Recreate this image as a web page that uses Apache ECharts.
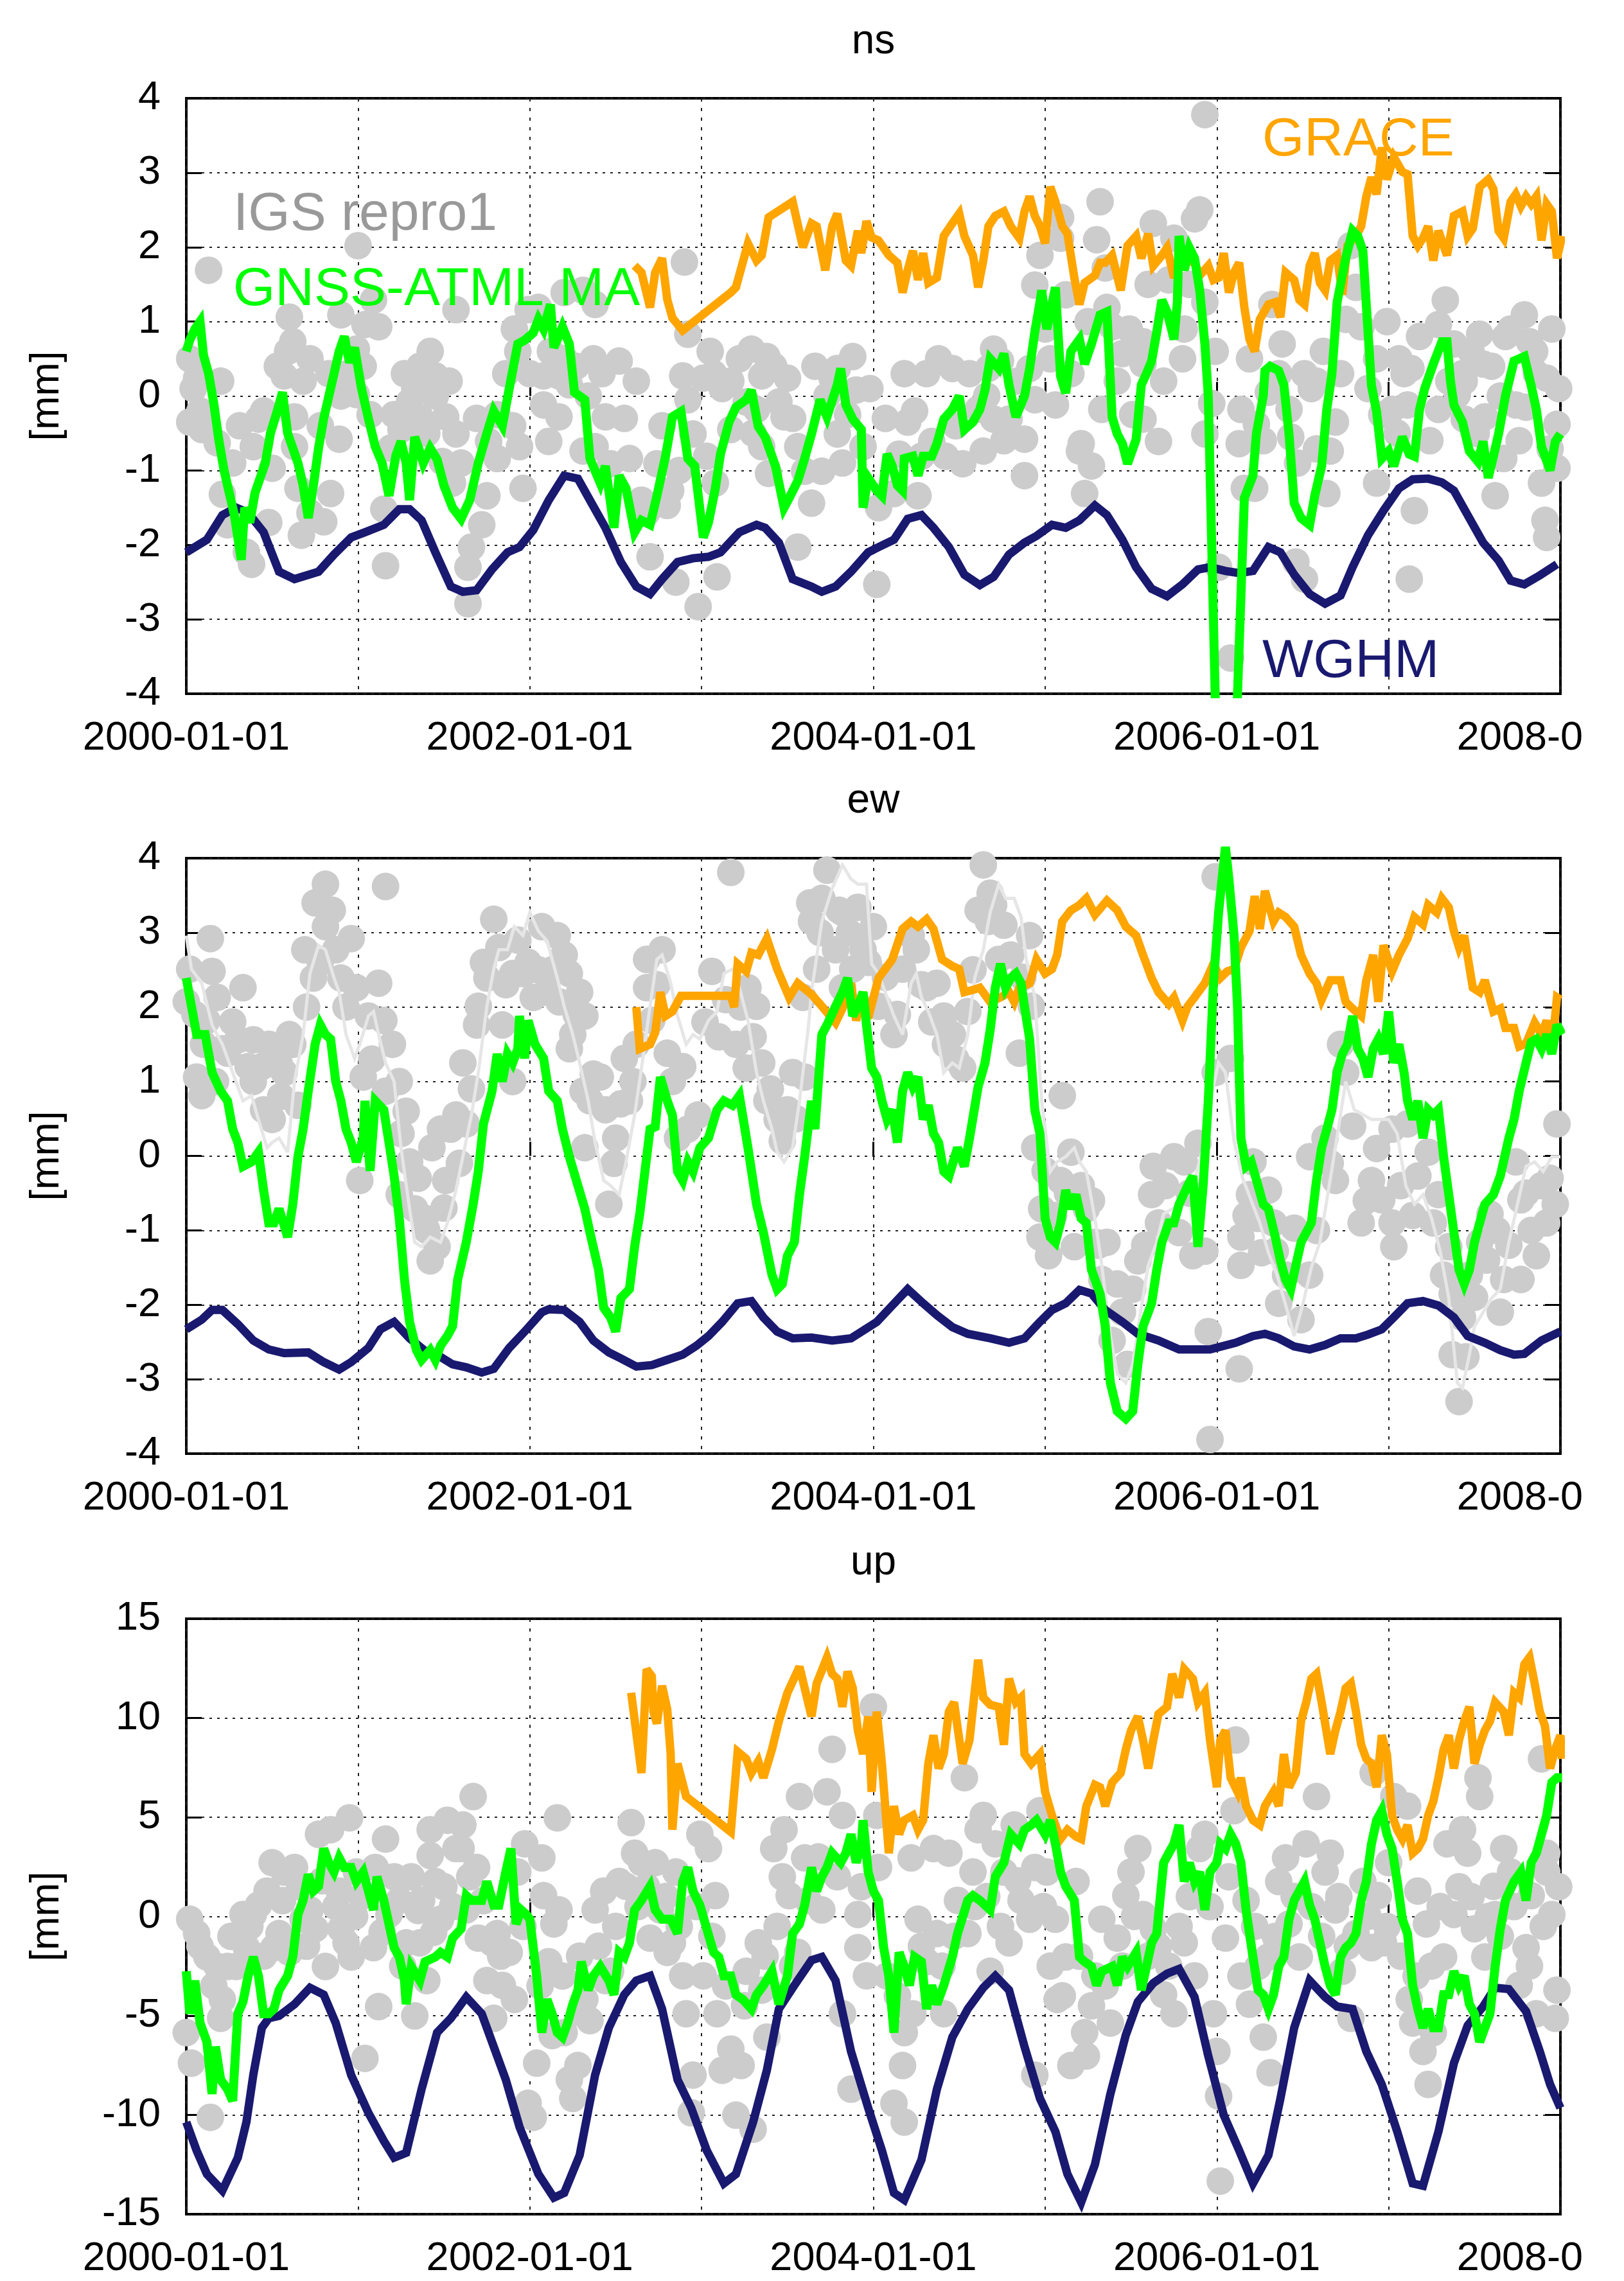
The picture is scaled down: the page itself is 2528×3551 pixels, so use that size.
<!DOCTYPE html>
<html><head><meta charset="utf-8">
<script src="https://cdn.jsdelivr.net/npm/echarts@6/dist/echarts.min.js"></script>
<style>html,body{margin:0;padding:0;background:#fff;}#c{width:2463px;height:3551px;}</style>
</head><body><div id="c"></div>
<script>
// ---------- tick labels / categories ----------
const panelTitles = ['ns', 'ew', 'up'];
const yRanges = [[-4, 4, 1], [-4, 4, 1], [-15, 15, 5]];
const xRange = [2000, 2008, 1];
const legendNames = ['IGS repro1', 'GNSS-ATML MA', 'GRACE', 'WGHM'];

// ---------- ns ----------
const nsGray = [[2000.13,1.69],[2001.00,2.02],[2002.90,1.80],[2000.60,1.06],[2000.62,0.73],[2000.59,0.60],[2000.57,0.27],[2000.90,1.09],[2001.09,1.29],[2001.04,0.96],[2001.12,0.93],[2000.99,0.63],[2001.57,1.16],[2001.36,0.40],[2001.45,0.27],[2001.91,0.90],[2001.99,1.16],[2002.05,1.19],[2002.20,1.39],[2002.31,1.42],[2002.38,1.23],[2001.93,0.60],[2002.08,0.27],[2002.17,0.27],[2002.20,0.50],[2002.37,0.50],[2002.52,0.47],[2002.92,0.83],[2003.17,0.20],[2003.29,0.63],[2003.38,0.53],[2003.35,0.27],[2003.50,0.24],[2003.07,0.30],[2003.01,0.24],[2002.89,0.27],[2000.02,0.50],[2000.06,0.24],
[2005.93,3.78],[2005.32,2.61],[2005.90,2.50],[2005.87,2.38],[2005.63,2.32],[2005.09,2.40],[2005.30,2.10],[2004.97,1.89],[2004.94,1.49],[2005.09,2.12],[2005.75,2.12],[2005.35,1.72],[2005.36,1.19],[2005.39,0.93],[2005.12,1.36],[2005.57,0.73],[2005.72,1.56],[2005.81,0.90],[2005.93,1.26],[2005.99,0.60],[2005.80,0.50],[2006.32,1.23],[2006.36,0.30],[2006.78,2.02],[2006.81,1.46],[2006.84,0.93],[2006.75,1.03],[2007.33,1.29],[2007.29,0.96],[2007.38,0.70],[2007.53,0.83],[2007.79,1.09],[2007.82,0.73],[2007.68,0.80],[2007.06,0.50],[2006.93,0.50],[2007.43,0.30],[2007.55,0.43],[2007.86,0.30],[2007.92,0.24],[2003.88,0.53],[2003.79,0.37],[2003.76,0.24],[2004.31,0.30],[2004.46,0.37],[2004.70,0.63],[2004.74,0.47],[2004.67,0.37],[2004.91,0.37],[2005.03,0.50],[2005.45,0.57],[2005.57,0.43],[2006.51,0.30],[2006.58,0.20],[2007.13,0.37],[2007.44,0.20],
[2000.02,-0.35],[2000.09,-0.45],[2000.18,-0.63],[2000.21,-1.32],[2000.24,-1.73],[2000.38,-2.26],[2000.35,-2.10],[2000.48,-1.70],[2000.42,-0.31],[2000.39,-0.68],[2000.50,-0.97],[2000.63,-0.28],[2000.63,-0.68],[2000.67,-1.87],[2000.65,-1.24],[2000.72,-1.57],[2000.80,-1.69],[2000.84,-1.31],[2000.90,0.00],[2000.89,-0.58],[2000.99,0.02],[2001.07,-0.25],[2001.16,-2.28],[2001.15,-1.52],[2001.21,-0.25],[2001.25,-0.45],[2001.30,-0.08],[2001.36,-0.28],[2001.45,0.00],[2001.51,-0.28],[2001.49,-0.88],[2001.55,-1.17],[2001.57,-0.51],[2001.64,-2.79],[2001.64,-2.30],[2001.66,-2.03],[2001.72,-1.73],[2001.75,-1.34],[2001.76,-0.61],[2001.81,-0.25],[2001.81,-0.84],[2001.94,-0.68],[2001.96,-1.24],[2002.08,-0.12],[2002.11,-0.61],[2002.17,-0.28],[2002.23,0.15],[2002.31,-0.74],[2002.38,-0.68],[2002.44,-0.28],[2002.47,-0.91],[2002.58,-0.84],[2002.65,-1.40],[2002.68,-1.57],[2002.70,-2.16],[2002.85,-2.50],[2002.98,-2.83],[2003.09,-2.43],[2002.74,-0.91],[2002.80,-1.47],[2002.82,-1.27],[2002.92,-0.05],[2002.95,-0.51],[2003.03,-0.81],[2003.08,-1.17],[2003.17,-0.45],[2003.26,-0.08],[2003.32,-0.18],[2003.35,-0.68],[2003.39,-1.04],[2003.45,-0.08],[2003.48,-0.28],[2003.56,-0.68],[2003.60,-1.01],[2003.56,-2.03],
[2003.64,-1.44],[2003.70,-1.01],[2003.79,-0.51],[2003.85,-0.25],[2003.90,0.08],[2003.94,-0.68],[2004.02,-2.53],[2004.03,-1.50],[2004.12,-1.31],[2004.15,-0.78],[2004.20,-0.35],[2004.26,-1.34],[2004.28,-0.81],[2004.34,-0.61],[2004.42,-0.81],[2004.52,-0.91],[2004.61,-0.18],[2004.64,-0.74],[2004.70,-0.31],[2004.79,-0.31],[2004.88,-0.58],[2004.88,-1.07],[2004.94,-0.05],[2005.06,-0.12],[2005.20,-0.74],[2005.23,-1.31],[2005.21,-0.64],[2005.27,-0.94],[2005.33,-0.18],[2005.51,-0.25],[2005.57,-0.31],[2005.66,-0.61],[2005.93,-0.51],[2006.01,-2.30],[2006.08,-3.52],[2006.13,-0.64],[2006.14,-0.18],[2006.16,-1.24],[2006.22,-1.24],[2006.23,-0.38],[2006.30,0.05],[2006.42,-0.18],[2006.43,-0.55],[2006.46,-2.23],[2006.51,-2.46],[2006.58,-0.71],[2006.64,-1.31],[2006.69,-0.35],[2006.66,-0.74],[2006.93,-1.17],[2006.96,-0.25],[2007.02,-0.18],[2007.11,-0.12],[2007.12,-2.46],[2007.15,-1.54],[2007.29,-0.18],[2007.40,0.02],[2007.44,-0.31],[2007.56,-0.28],[2007.62,-1.34],[2007.67,-0.84],[2007.74,-0.12],[2007.80,-0.15],[2007.91,-1.67],[2007.92,-1.90],[2007.89,-1.17],[2007.98,-0.38],[2007.98,-0.97],[2007.94,-0.71],
[2000.04,0.1],[2000.08,-0.2],[2000.20,0.2],[2000.27,-0.9],[2000.31,-0.4],[2000.45,-0.2],[2000.53,0.4],[2000.68,0.2],[2000.72,0.5],[2000.78,-0.4],[2000.83,0.3],[2000.94,0.3],[2001.03,0.4],[2001.19,-0.7],[2001.27,0.3],[2001.33,0.1],[2001.40,-0.5],[2001.42,0.6],[2001.53,0.2],[2001.60,-0.9],[2001.69,-0.3],[2001.86,0.3],[2001.90,-0.4],[2002.00,0.3],[2002.12,0.6],[2002.27,0.4],[2002.34,0.0],[2002.42,0.3],[2002.55,-0.3],[2002.62,0.2],[2002.77,-0.4],[2002.87,-1.0],[2003.05,0.6],[2003.12,0.1],[2003.22,0.5],[2003.30,-0.5],[2003.42,0.4],[2003.53,-0.3],[2003.66,0.4],[2003.73,0.0],[2003.82,-0.9],[2003.98,0.1],[2004.07,-0.3],[2004.18,0.3],[2004.24,-0.2],[2004.38,0.5],[2004.48,-0.4],[2004.56,0.3],[2004.66,0.0],[2004.76,-0.6],[2004.84,0.2],[2005.00,0.9],[2005.15,0.3],[2005.25,1.0],[2005.42,0.2],[2005.49,0.9],[2005.60,1.5],[2005.69,0.2],[2005.84,1.5],[2005.97,-0.1],[2006.19,0.5],[2006.27,-0.6],[2006.38,0.7],[2006.47,-0.9],[2006.55,0.1],[2006.62,0.6],[2006.72,0.3],[2006.88,0.1],[2006.99,1.0],[2007.05,-0.5],[2007.09,0.3],[2007.18,0.8],[2007.24,-0.6],[2007.35,0.2],[2007.48,0.6],[2007.51,-0.5],[2007.60,0.4],[2007.65,0.0],[2007.71,0.9],[2007.76,-0.6],[2007.85,0.6],[2007.95,0.9],[2007.99,0.1]];

const nsGreen = [[2000.00,0.6],[2000.02,0.75],[2000.05,0.9],[2000.08,1.0],[2000.10,0.55],[2000.13,0.3],[2000.16,-0.1],[2000.19,-0.6],[2000.22,-1.0],[2000.25,-1.3],[2000.28,-1.6],[2000.32,-2.2],[2000.34,-1.5],[2000.37,-1.7],[2000.40,-1.3],[2000.43,-1.1],[2000.46,-0.9],[2000.49,-0.5],[2000.53,-0.2],[2000.56,0.05],[2000.59,-0.5],[2000.62,-0.7],[2000.65,-0.9],[2000.68,-1.2],[2000.71,-1.64],[2000.74,-1.2],[2000.77,-0.7],[2000.80,-0.3],[2000.83,0.0],[2000.86,0.3],[2000.89,0.6],[2000.92,0.8],[2000.95,0.45],[2000.98,0.65],[2001.02,0.1],[2001.06,-0.3],[2001.10,-0.68],[2001.14,-0.9],[2001.18,-1.34],[2001.22,-0.8],[2001.25,-0.61],[2001.28,-0.9],[2001.30,-1.4],[2001.33,-0.55],[2001.36,-0.75],[2001.38,-0.9],[2001.42,-0.7],[2001.46,-0.85],[2001.50,-1.2],[2001.55,-1.5],[2001.60,-1.65],[2001.65,-1.4],[2001.70,-0.9],[2001.75,-0.5],[2001.79,-0.2],[2001.84,-0.4],[2001.88,0.1],[2001.93,0.7],[2001.97,0.75],[2002.02,0.85],[2002.05,1.03],[2002.08,0.9],[2002.12,1.23],[2002.14,0.65],[2002.19,0.93],[2002.23,0.7],[2002.26,0.05],[2002.32,-0.05],[2002.35,-0.84],[2002.41,-1.17],[2002.44,-0.94],[2002.49,-1.77],[2002.52,-1.07],[2002.56,-1.24],[2002.61,-1.83],[2002.65,-1.67],[2002.70,-1.73],[2002.74,-1.34],[2002.79,-0.81],[2002.83,-0.28],[2002.88,-0.21],[2002.92,-0.84],[2002.96,-0.94],[2003.01,-1.90],[2003.04,-1.70],[2003.08,-1.24],[2003.11,-0.78],[2003.16,-0.35],[2003.20,-0.15],[2003.26,-0.05],[2003.29,0.08],[2003.33,-0.41],[2003.37,-0.55],[2003.43,-0.94],[2003.48,-1.50],[2003.51,-1.37],[2003.56,-1.14],[2003.60,-0.84],[2003.64,-0.51],[2003.69,-0.05],[2003.73,-0.28],[2003.79,0.15],[2003.81,0.37],[2003.84,-0.12],[2003.88,-0.31],[2003.93,-0.45],[2003.94,-1.5],[2003.97,-1.1],[2004.02,-1.27],[2004.05,-1.34],[2004.08,-0.78],[2004.11,-0.94],[2004.14,-1.2],[2004.17,-1.27],[2004.18,-0.84],[2004.23,-0.81],[2004.26,-1.07],[2004.29,-0.81],[2004.34,-0.81],[2004.37,-0.64],[2004.41,-0.31],[2004.46,-0.18],[2004.50,0.0],[2004.53,-0.45],[2004.58,-0.35],[2004.62,-0.18],[2004.65,0.08],[2004.68,0.5],[2004.73,0.37],[2004.76,0.57],[2004.79,0.15],[2004.83,-0.28],[2004.88,0.0],[2004.91,0.37],[2004.94,0.86],[2004.97,1.26],[2004.98,1.42],[2005.01,0.9],[2005.06,1.46],[2005.09,0.27],[2005.12,0.04],[2005.15,0.6],[2005.20,0.76],[2005.23,0.43],[2005.27,0.7],[2005.32,1.09],[2005.36,1.13],[2005.39,-0.28],[2005.42,-0.51],[2005.45,-0.64],[2005.48,-0.91],[2005.53,-0.58],[2005.56,0.15],[2005.59,0.3],[2005.62,0.47],[2005.65,0.86],[2005.68,1.29],[2005.71,1.13],[2005.74,0.86],[2005.75,0.76],[2005.77,1.26],[2005.78,2.15],[2005.81,1.69],[2005.84,1.99],[2005.87,1.85],[2005.90,1.42],[2005.93,0.7],[2005.95,0.0],[2006.01,-6.0],[2006.09,-6.0],[2006.16,-1.37],[2006.21,-1.07],[2006.23,-0.51],[2006.27,0.0],[2006.28,0.34],[2006.31,0.40],[2006.36,0.34],[2006.39,0.15],[2006.42,-0.51],[2006.45,-1.44],[2006.49,-1.64],[2006.54,-1.73],[2006.57,-1.34],[2006.61,-0.94],[2006.64,-0.18],[2006.67,0.3],[2006.70,1.26],[2006.75,1.85],[2006.79,2.22],[2006.82,2.15],[2006.85,1.95],[2006.90,0.14],[2006.93,-0.21],[2006.96,-0.84],[2007.00,-0.74],[2007.03,-0.94],[2007.08,-0.55],[2007.12,-0.78],[2007.15,-0.81],[2007.18,-0.18],[2007.21,0.1],[2007.26,0.43],[2007.31,0.73],[2007.34,0.73],[2007.36,0.2],[2007.38,-0.12],[2007.43,-0.35],[2007.47,-0.74],[2007.52,-0.88],[2007.55,-0.61],[2007.58,-1.1],[2007.61,-0.81],[2007.64,-0.51],[2007.68,0.0],[2007.73,0.47],[2007.79,0.53],[2007.83,0.14],[2007.86,-0.18],[2007.89,-0.68],[2007.94,-1.0],[2007.97,-0.61],[2008.00,-0.51]];

const nsGrace = [[2002.61,1.75],[2002.65,1.66],[2002.70,1.19],[2002.73,1.66],[2002.77,1.85],[2002.80,1.30],[2002.83,1.05],[2002.89,0.88],[2003.17,1.39],[2003.20,1.46],[2003.27,2.05],[2003.32,1.82],[2003.35,1.89],[2003.39,2.40],[2003.53,2.61],[2003.59,2.00],[2003.64,2.32],[2003.67,2.28],[2003.72,1.69],[2003.76,2.28],[2003.79,2.45],[2003.84,1.82],[2003.87,1.75],[2003.91,2.22],[2003.93,1.92],[2003.96,2.35],[2003.99,2.13],[2004.03,2.09],[2004.09,1.89],[2004.14,1.79],[2004.17,1.39],[2004.20,1.69],[2004.23,1.95],[2004.26,1.56],[2004.29,1.92],[2004.32,1.52],[2004.37,1.59],[2004.41,2.15],[2004.46,2.32],[2004.50,2.45],[2004.53,2.15],[2004.58,1.89],[2004.61,1.46],[2004.64,1.82],[2004.67,2.28],[2004.71,2.42],[2004.76,2.48],[2004.80,2.28],[2004.85,2.12],[2004.88,2.48],[2004.91,2.68],[2004.94,2.42],[2004.97,2.28],[2005.00,2.05],[2005.03,2.81],[2005.06,2.61],[2005.10,2.28],[2005.13,2.18],[2005.17,1.59],[2005.20,1.23],[2005.23,1.52],[2005.29,1.62],[2005.32,1.79],[2005.35,1.79],[2005.39,1.89],[2005.44,1.42],[2005.48,2.02],[2005.53,2.15],[2005.56,1.85],[2005.60,2.18],[2005.63,1.75],[2005.68,1.89],[2005.71,1.99],[2005.75,1.59],[2005.78,1.75],[2005.83,1.82],[2005.87,1.79],[2005.90,1.62],[2005.95,1.75],[2005.98,1.56],[2006.01,1.59],[2006.04,1.92],[2006.07,1.39],[2006.10,1.66],[2006.13,1.79],[2006.16,1.19],[2006.19,0.76],[2006.22,0.60],[2006.25,1.03],[2006.30,1.23],[2006.34,1.26],[2006.37,1.06],[2006.40,1.66],[2006.45,1.56],[2006.48,1.29],[2006.51,1.23],[2006.54,1.75],[2006.57,1.92],[2006.60,1.52],[2006.63,1.42],[2006.66,1.82],[2006.70,1.89],[2006.73,1.36],[2006.76,2.02],[2006.81,2.15],[2006.84,2.28],[2006.87,2.68],[2006.90,2.94],[2006.93,2.71],[2006.96,3.34],[2006.99,2.91],[2007.03,3.21],[2007.08,3.01],[2007.11,2.98],[2007.14,2.15],[2007.17,2.02],[2007.20,2.12],[2007.23,2.28],[2007.26,1.82],[2007.29,2.22],[2007.34,1.89],[2007.38,2.42],[2007.43,2.48],[2007.46,2.15],[2007.49,2.25],[2007.53,2.81],[2007.58,2.91],[2007.61,2.78],[2007.64,2.22],[2007.67,2.12],[2007.71,2.61],[2007.74,2.71],[2007.77,2.55],[2007.80,2.68],[2007.83,2.58],[2007.86,2.68],[2007.89,2.09],[2007.92,2.58],[2007.95,2.48],[2007.98,1.85],[2008.01,2.15]];

const nsWghm = [[2000.00,-2.10],[2000.12,-1.93],[2000.21,-1.60],[2000.29,-1.50],[2000.36,-1.57],[2000.45,-1.83],[2000.54,-2.36],[2000.63,-2.46],[2000.77,-2.36],[2000.86,-2.13],[2000.96,-1.90],[2001.04,-1.83],[2001.15,-1.73],[2001.24,-1.52],[2001.30,-1.52],[2001.37,-1.67],[2001.45,-2.10],[2001.54,-2.56],[2001.61,-2.63],[2001.69,-2.61],[2001.78,-2.33],[2001.87,-2.10],[2001.94,-2.03],[2002.02,-1.80],[2002.11,-1.40],[2002.20,-1.07],[2002.28,-1.11],[2002.35,-1.40],[2002.44,-1.77],[2002.53,-2.23],[2002.62,-2.56],[2002.70,-2.66],[2002.77,-2.46],[2002.86,-2.23],[2002.95,-2.18],[2003.04,-2.16],[2003.11,-2.10],[2003.22,-1.83],[2003.32,-1.73],[2003.37,-1.77],[2003.45,-1.97],[2003.53,-2.46],[2003.64,-2.56],[2003.70,-2.63],[2003.78,-2.56],[2003.87,-2.36],[2003.97,-2.10],[2004.03,-2.03],[2004.12,-1.93],[2004.20,-1.65],[2004.28,-1.60],[2004.35,-1.77],[2004.44,-2.03],[2004.53,-2.40],[2004.62,-2.54],[2004.70,-2.43],[2004.79,-2.13],[2004.88,-1.97],[2004.95,-1.88],[2005.04,-1.73],[2005.12,-1.77],[2005.20,-1.67],[2005.29,-1.47],[2005.36,-1.60],[2005.45,-1.93],[2005.53,-2.30],[2005.62,-2.59],[2005.71,-2.69],[2005.80,-2.53],[2005.89,-2.33],[2005.96,-2.30],[2006.05,-2.35],[2006.13,-2.38],[2006.21,-2.35],[2006.30,-2.03],[2006.37,-2.10],[2006.45,-2.40],[2006.54,-2.66],[2006.63,-2.79],[2006.72,-2.68],[2006.79,-2.30],[2006.88,-1.87],[2006.97,-1.54],[2007.06,-1.24],[2007.14,-1.12],[2007.23,-1.11],[2007.31,-1.16],[2007.38,-1.27],[2007.46,-1.60],[2007.55,-1.97],[2007.64,-2.21],[2007.71,-2.48],[2007.79,-2.53],[2007.88,-2.41],[2007.98,-2.26]];

// ---------- ew ----------
const ewGray = [[2000.00,2.07],[2000.02,2.51],[2000.06,1.06],[2000.09,0.81],[2000.14,2.92],[2000.15,2.48],[2000.12,1.82],[2000.18,2.13],[2000.21,1.44],[2000.24,1.38],[2000.30,1.56],[2000.33,2.26],[2000.39,1.56],[2000.39,1.00],[2000.45,0.62],[2000.50,0.49],[2000.48,1.50],[2000.54,1.25],[2000.57,1.12],[2000.60,1.63],[2000.65,0.68],[2000.69,2.77],[2000.74,2.39],[2000.75,3.40],[2000.81,3.65],[2000.81,3.08],[2000.87,2.77],[2000.90,2.39],[2000.96,2.92],[2000.99,2.26],[2001.03,1.06],[2001.01,-0.33],[2001.06,1.88],[2001.12,2.32],[2001.16,3.62],[2001.15,1.82],[2001.16,0.87],[2001.24,1.00],[2001.25,0.30],[2001.30,-0.08],[2001.24,-0.52],[2001.33,-0.71],[2001.39,-0.84],[2001.42,-1.41],[2001.46,-1.22],[2001.43,0.11],[2001.48,0.36],[2001.51,-0.33],[2001.54,0.36],[2001.57,0.55],[2001.63,0.43],[2001.61,1.25],[2001.69,1.76],[2001.70,2.01],[2001.75,2.39],[2001.79,3.18],[2001.82,2.80],[2001.90,2.45],[2001.84,1.76],[2001.90,1.00],[2001.96,2.45],[2002.02,2.13],[2002.07,3.08],[2002.10,2.20],[2002.16,2.96],[2002.17,2.07],[2002.23,2.45],[2002.25,1.63],[2002.29,2.20],[2002.32,1.88],[2002.23,1.44],[2002.31,0.87],[2002.35,0.74],[2002.32,0.11],[2002.41,1.06],[2002.44,0.62],[2002.46,-0.65],[2002.50,0.24],[2002.55,1.31],[2002.58,0.74],[2002.62,1.50],[2002.68,2.26],[2002.68,2.64],[2002.77,2.77],[2002.71,1.82],[2002.80,1.38],[2002.86,0.24],[2002.92,0.36],[2002.98,0.55],[2003.06,2.48],[2003.17,3.81],[2003.20,1.50],[2003.26,1.18],[2003.27,2.26],[2003.32,2.01],[2003.38,0.74],[2003.35,1.25],[2003.44,0.49],[2003.50,0.62],[2003.53,1.12],[2003.59,2.13],[2003.60,1.06],[2003.63,3.40],
[2003.73,3.84],[2003.70,3.46],[2003.64,3.15],[2003.67,2.51],[2003.82,3.27],[2003.91,3.34],[2004.00,3.08],[2003.94,2.77],[2003.78,2.77],[2003.82,2.26],[2003.88,2.51],[2004.03,2.01],[2004.12,1.63],[2004.17,2.51],[2004.22,2.96],[2004.25,2.77],[2004.31,2.26],[2004.37,2.32],[2004.41,1.88],[2004.46,1.63],[2004.52,1.18],[2004.42,1.50],[2004.55,1.94],[2004.64,3.91],[2004.68,3.53],[2004.67,3.15],[2004.70,3.37],[2004.73,2.64],[2004.85,1.38],[2004.91,2.96],[2004.92,2.01],[2005.10,0.81],[2004.94,0.11],[2004.98,-0.71],[2004.97,-1.09],[2005.02,-1.34],[2005.09,-0.33],[2005.15,0.05],[2005.21,-0.40],[2005.24,-0.71],[2005.17,-1.22],[2005.29,-1.16],[2005.33,-1.66],[2005.36,-1.16],[2005.42,-1.72],[2005.39,-2.48],[2005.51,-1.79],[2005.54,-1.41],[2005.62,-0.52],[2005.63,-0.14],[2005.75,-0.01],[2005.81,-0.08],[2005.89,0.17],[2005.78,-1.03],[2005.86,-1.34],[2005.93,-1.28],[2005.95,-2.36],[2005.96,-3.81],[2005.99,3.75],[2005.99,1.12],[2006.08,1.31],[2006.13,-2.86],[2006.14,-1.09],[2006.14,-1.47],[2006.19,-0.52],[2006.21,-0.08],[2006.24,-0.84],[2006.30,-0.46],[2006.34,-1.28],[2006.36,-1.98],[2006.45,-0.97],[2006.54,-1.60],[2006.54,-0.01],[2006.63,0.24],[2006.69,-0.33],[2006.72,1.50],[2006.75,1.12],[2006.84,-0.90],[2006.90,-0.33],[2006.96,-0.59],[2007.02,-0.90],[2007.03,-1.22],[2007.02,0.36],[2007.11,0.43],[2007.17,-0.27],[2007.23,0.05],[2007.29,-0.52],[2007.35,-1.22],[2007.37,-1.85],[2007.37,-2.67],[2007.41,-3.30],[2007.43,-2.17],[2007.47,-1.60],[2007.53,-1.16],[2007.59,-0.78],[2007.65,-2.10],[2007.67,-1.66],[2007.77,-1.66],[2007.74,-0.08],[2007.77,-0.59],[2007.86,-1.34],[2007.89,-0.40],[2007.98,0.43],[2007.97,-0.65],[2007.92,-0.90],
[2000.05,1.9],[2000.10,1.5],[2000.17,1.0],[2000.27,1.8],[2000.36,1.2],[2000.44,1.2],[2000.55,0.8],[2000.62,1.5],[2000.70,2.0],[2000.78,2.6],[2000.85,3.3],[2000.93,2.0],[2001.08,1.3],[2001.20,1.5],[2001.28,0.6],[2001.35,-0.3],[2001.40,-1.0],[2001.50,-0.7],[2001.59,-0.1],[2001.66,0.9],[2001.73,2.6],[2001.86,2.3],[2001.93,2.9],[2001.99,2.6],[2002.05,2.5],[2002.13,2.5],[2002.20,2.7],[2002.27,1.9],[2002.37,1.1],[2002.49,-0.1],[2002.53,0.7],[2002.60,1.0],[2002.74,2.3],[2002.83,1.0],[2002.89,1.2],[2003.02,1.8],[2003.10,1.6],[2003.14,2.1],[2003.23,2.0],[2003.30,1.6],[2003.40,0.9],[2003.47,0.2],[2003.55,0.5],[2003.69,3.0],[2003.80,3.3],[2003.86,3.0],[2003.97,2.6],[2004.07,2.4],[2004.14,1.9],[2004.28,2.3],[2004.34,1.8],[2004.48,1.3],[2004.58,2.5],[2004.61,3.3],[2004.76,3.1],[2004.80,2.7],[2004.87,2.4],[2005.00,-0.2],[2005.05,-0.8],[2005.13,-0.5],[2005.27,-0.6],[2005.31,-1.2],[2005.45,-2.1],[2005.48,-2.8],[2005.58,-1.2],[2005.66,-0.9],[2005.70,-0.4],[2005.84,-0.5],[2006.17,-0.8],[2006.26,-1.3],[2006.33,-0.9],[2006.40,-1.6],[2006.49,-2.2],[2006.58,-1.0],[2006.66,-0.1],[2006.79,0.4],[2006.87,-0.6],[2006.93,0.1],[2007.07,-0.4],[2007.14,-0.8],[2007.26,-0.9],[2007.32,-1.6],[2007.45,-2.7],[2007.50,-1.9],[2007.57,-1.4],[2007.63,-1.0],[2007.70,-1.2],[2007.80,-0.5],[2007.83,-1.0],[2007.94,-0.3]];

const ewGrayMean = [[2000.00,2.96],[2000.03,2.51],[2000.09,2.32],[2000.15,1.76],[2000.21,1.50],[2000.27,1.12],[2000.33,0.74],[2000.38,0.81],[2000.42,0.49],[2000.47,0.11],[2000.50,0.18],[2000.54,0.24],[2000.59,0.05],[2000.63,1.00],[2000.68,1.63],[2000.72,2.45],[2000.77,2.83],[2000.81,2.77],[2000.86,2.39],[2000.89,2.20],[2000.93,1.63],[2000.98,1.31],[2001.01,1.50],[2001.06,1.88],[2001.09,1.94],[2001.12,1.63],[2001.16,1.25],[2001.21,1.00],[2001.25,0.11],[2001.30,-0.71],[2001.33,-1.16],[2001.37,-1.22],[2001.42,-1.09],[2001.48,-1.16],[2001.52,-0.90],[2001.57,-0.46],[2001.61,-0.01],[2001.66,0.55],[2001.70,1.12],[2001.75,2.01],[2001.79,2.51],[2001.82,2.77],[2001.87,2.77],[2001.91,3.08],[2001.96,2.96],[2002.00,3.27],[2002.05,3.02],[2002.10,2.89],[2002.16,2.39],[2002.20,2.01],[2002.25,1.63],[2002.29,1.25],[2002.34,0.74],[2002.38,0.18],[2002.43,-0.33],[2002.47,-0.40],[2002.52,-0.52],[2002.56,-0.08],[2002.61,0.55],[2002.65,1.18],[2002.70,2.01],[2002.74,2.64],[2002.77,2.70],[2002.82,2.32],[2002.86,1.88],[2002.91,1.50],[2002.95,1.63],[2002.99,1.57],[2003.04,1.82],[2003.09,1.94],[2003.13,2.45],[2003.18,2.51],[2003.22,2.26],[2003.27,1.82],[2003.32,1.12],[2003.36,0.74],[2003.41,0.36],[2003.44,0.05],[2003.48,-0.08],[2003.53,0.11],[2003.57,0.74],[2003.62,1.69],[2003.64,2.20],[2003.70,3.15],[2003.76,3.59],[2003.82,3.91],[2003.87,3.72],[2003.91,3.65],[2003.96,3.65],[2003.99,2.58],[2004.03,2.45],[2004.08,2.13],[2004.12,1.88],[2004.17,1.63],[2004.22,2.32],[2004.25,2.45],[2004.28,2.13],[2004.32,1.94],[2004.37,1.63],[2004.41,1.12],[2004.46,1.25],[2004.50,1.18],[2004.55,1.63],[2004.59,2.39],[2004.64,2.77],[2004.68,3.27],[2004.73,3.65],[2004.77,3.46],[2004.82,3.46],[2004.86,3.21],[2004.89,2.64],[2004.94,2.13],[2004.98,0.74],[2005.03,-0.21],[2005.07,-0.08],[2005.12,-0.01],[2005.17,0.11],[2005.20,-0.08],[2005.24,-0.21],[2005.29,-0.84],[2005.33,-1.47],[2005.38,-2.42],[2005.42,-2.93],[2005.47,-3.05],[2005.51,-2.80],[2005.56,-2.04],[2005.60,-1.47],[2005.65,-1.16],[2005.69,-0.78],[2005.74,-0.71],[2005.78,-0.65],[2005.83,-0.52],[2005.87,-0.33],[2005.92,0.11],[2005.96,0.74],[2006.01,1.25],[2006.05,1.12],[2006.10,0.2],[2006.15,-0.3],[2006.20,-0.6],[2006.25,-0.9],[2006.30,-1.3],[2006.35,-1.6],[2006.40,-2.0],[2006.45,-2.42],[2006.50,-2.0],[2006.55,-1.5],[2006.60,-1.16],[2006.69,0.11],[2006.75,1.00],[2006.80,0.62],[2006.90,0.49],[2007.00,0.49],[2007.05,0.30],[2007.10,-0.40],[2007.15,-0.65],[2007.20,-0.52],[2007.25,-0.84],[2007.30,-1.28],[2007.35,-1.91],[2007.40,-3.05],[2007.43,-3.12],[2007.47,-2.67],[2007.50,-2.29],[2007.55,-2.10],[2007.60,-1.91],[2007.65,-1.79],[2007.70,-1.16],[2007.75,-0.65],[2007.80,-0.14],[2007.85,-0.08],[2007.90,-0.21],[2007.95,-0.01],[2008.00,-0.01]];

const ewGreen = [[2000.00,2.39],[2000.03,2.01],[2000.06,1.63],[2000.11,1.63],[2000.15,1.12],[2000.20,0.87],[2000.24,0.74],[2000.27,0.36],[2000.30,0.18],[2000.33,-0.14],[2000.38,-0.08],[2000.42,0.05],[2000.45,-0.46],[2000.48,-0.90],[2000.51,-0.90],[2000.54,-0.71],[2000.59,-1.09],[2000.62,-0.65],[2000.65,-0.01],[2000.68,0.36],[2000.71,0.87],[2000.75,1.50],[2000.78,1.76],[2000.81,1.63],[2000.84,1.57],[2000.87,1.00],[2000.90,0.74],[2000.93,0.36],[2000.96,0.18],[2000.99,-0.08],[2001.03,0.24],[2001.04,0.74],[2001.07,-0.20],[2001.10,0.74],[2001.15,0.62],[2001.18,0.18],[2001.21,-0.27],[2001.24,-0.84],[2001.27,-1.66],[2001.30,-2.23],[2001.34,-2.61],[2001.37,-2.74],[2001.42,-2.61],[2001.45,-2.74],[2001.48,-2.55],[2001.52,-2.42],[2001.55,-2.29],[2001.58,-1.66],[2001.63,-1.16],[2001.67,-0.65],[2001.70,-0.21],[2001.73,0.43],[2001.78,0.87],[2001.81,1.37],[2001.84,1.00],[2001.87,1.37],[2001.90,1.25],[2001.93,1.44],[2001.94,1.88],[2001.97,1.31],[2001.99,1.82],[2002.03,1.50],[2002.08,1.31],[2002.11,0.87],[2002.16,0.74],[2002.19,0.36],[2002.23,-0.01],[2002.28,-0.40],[2002.32,-0.71],[2002.35,-1.03],[2002.40,-1.53],[2002.43,-2.04],[2002.47,-2.17],[2002.50,-2.36],[2002.53,-1.91],[2002.58,-1.79],[2002.61,-1.22],[2002.64,-0.78],[2002.67,-0.21],[2002.70,0.36],[2002.73,0.39],[2002.76,1.06],[2002.80,0.74],[2002.83,0.55],[2002.86,-0.21],[2002.89,-0.33],[2002.92,-0.08],[2002.95,-0.21],[2002.99,0.11],[2003.04,0.24],[2003.09,0.62],[2003.13,0.74],[2003.18,0.68],[2003.22,0.81],[2003.27,0.11],[2003.32,-0.65],[2003.36,-1.03],[2003.41,-1.60],[2003.44,-1.79],[2003.47,-1.72],[2003.50,-1.34],[2003.54,-1.16],[2003.57,-0.52],[2003.60,-0.01],[2003.64,0.74],[2003.66,0.36],[2003.70,1.63],[2003.73,1.76],[2003.78,2.01],[2003.82,2.20],[2003.85,2.39],[2003.88,1.88],[2003.91,2.01],[2003.94,2.20],[2003.96,1.76],[2003.99,1.18],[2004.02,1.06],[2004.05,0.74],[2004.08,0.49],[2004.11,0.62],[2004.14,0.18],[2004.17,0.87],[2004.20,1.12],[2004.23,0.93],[2004.26,1.06],[2004.29,0.49],[2004.32,0.68],[2004.35,0.30],[2004.38,0.18],[2004.41,-0.21],[2004.44,-0.27],[2004.49,0.11],[2004.53,-0.14],[2004.56,0.24],[2004.61,0.93],[2004.65,1.25],[2004.68,1.69],[2004.71,2.26],[2004.74,2.58],[2004.77,2.26],[2004.80,2.39],[2004.83,2.45],[2004.86,2.32],[2004.88,2.01],[2004.91,1.57],[2004.94,0.62],[2004.97,0.30],[2005.00,-0.84],[2005.03,-1.09],[2005.06,-1.16],[2005.09,-0.90],[2005.12,-0.46],[2005.15,-0.71],[2005.18,-0.52],[2005.21,-0.84],[2005.24,-0.90],[2005.27,-1.53],[2005.32,-1.85],[2005.35,-2.29],[2005.38,-3.05],[2005.42,-3.43],[2005.47,-3.53],[2005.51,-3.43],[2005.54,-2.80],[2005.57,-2.29],[2005.62,-1.98],[2005.65,-1.53],[2005.68,-1.16],[2005.72,-0.90],[2005.75,-0.90],[2005.78,-0.65],[2005.83,-0.40],[2005.86,-0.27],[2005.89,-1.22],[2005.92,-0.40],[2005.95,0.74],[2005.98,2.32],[2006.01,3.27],[2006.03,3.72],[2006.05,4.15],[2006.07,3.72],[2006.10,2.96],[2006.12,2.01],[2006.14,0.24],[2006.17,-0.14],[2006.20,-0.08],[2006.24,-0.40],[2006.27,-0.65],[2006.30,-0.71],[2006.34,-1.09],[2006.37,-1.41],[2006.40,-1.66],[2006.43,-1.79],[2006.46,-1.47],[2006.49,-1.16],[2006.52,-1.03],[2006.55,-0.90],[2006.58,-0.33],[2006.61,0.11],[2006.64,0.36],[2006.67,0.62],[2006.70,1.12],[2006.73,1.37],[2006.76,1.50],[2006.79,1.88],[2006.82,1.44],[2006.85,1.31],[2006.88,1.06],[2006.91,1.44],[2006.94,1.57],[2006.97,1.37],[2007.00,1.94],[2007.03,1.25],[2007.06,1.50],[2007.09,1.12],[2007.11,0.74],[2007.14,0.49],[2007.17,0.74],[2007.20,0.24],[2007.23,0.62],[2007.26,0.55],[2007.29,0.62],[2007.32,-0.01],[2007.35,-0.52],[2007.38,-1.03],[2007.41,-1.53],[2007.44,-1.72],[2007.47,-1.53],[2007.50,-1.16],[2007.53,-0.90],[2007.56,-0.65],[2007.61,-0.52],[2007.65,-0.27],[2007.70,0.24],[2007.73,0.49],[2007.76,0.87],[2007.80,1.25],[2007.83,1.53],[2007.86,1.57],[2007.89,1.44],[2007.92,1.63],[2007.95,1.37],[2007.98,1.76],[2008.01,1.63]];

const ewGrace = [[2002.62,2.00],[2002.64,1.44],[2002.70,1.50],[2002.73,1.66],[2002.76,2.20],[2002.79,1.88],[2002.83,1.94],[2002.88,2.15],[2003.01,2.15],[2003.17,2.15],[2003.19,2.00],[2003.21,2.58],[2003.26,2.48],[2003.29,2.73],[2003.33,2.70],[2003.38,2.92],[2003.44,2.51],[2003.51,2.13],[2003.56,2.32],[2003.64,2.17],[2003.70,2.01],[2003.78,1.79],[2003.82,1.98],[2003.87,2.32],[2003.90,1.82],[2003.94,2.20],[2003.97,1.85],[2004.03,2.39],[2004.11,2.64],[2004.17,3.05],[2004.22,3.15],[2004.26,3.08],[2004.31,3.18],[2004.35,3.05],[2004.40,2.64],[2004.46,2.55],[2004.50,2.51],[2004.53,2.20],[2004.58,2.23],[2004.62,2.26],[2004.68,2.07],[2004.74,2.13],[2004.79,2.20],[2004.82,2.07],[2004.85,2.26],[2004.91,2.32],[2004.95,2.64],[2005.00,2.45],[2005.04,2.51],[2005.07,2.70],[2005.10,3.15],[2005.15,3.30],[2005.20,3.37],[2005.24,3.46],[2005.29,3.24],[2005.36,3.43],[2005.42,3.30],[2005.47,3.08],[2005.53,2.96],[2005.57,2.70],[2005.62,2.39],[2005.66,2.20],[2005.72,2.04],[2005.75,2.13],[2005.80,1.82],[2005.83,2.01],[2005.87,2.13],[2005.93,2.32],[2005.98,2.58],[2006.02,2.39],[2006.06,2.48],[2006.10,2.51],[2006.14,2.80],[2006.19,3.02],[2006.22,3.49],[2006.25,3.05],[2006.28,3.56],[2006.33,3.15],[2006.36,3.27],[2006.40,3.21],[2006.45,3.08],[2006.49,2.70],[2006.54,2.45],[2006.58,2.32],[2006.61,2.10],[2006.66,2.36],[2006.72,2.36],[2006.75,2.07],[2006.79,1.98],[2006.84,1.88],[2006.87,2.36],[2006.91,2.70],[2006.94,2.07],[2006.97,2.83],[2007.02,2.48],[2007.06,2.70],[2007.11,2.92],[2007.15,3.21],[2007.20,3.11],[2007.23,3.37],[2007.28,3.27],[2007.31,3.46],[2007.35,3.34],[2007.38,3.02],[2007.41,2.80],[2007.44,2.96],[2007.49,2.26],[2007.53,2.20],[2007.56,2.36],[2007.61,1.94],[2007.65,1.98],[2007.68,1.72],[2007.73,1.72],[2007.76,1.47],[2007.80,1.51],[2007.85,1.79],[2007.89,1.63],[2007.92,1.82],[2007.95,1.41],[2007.98,2.13],[2008.00,2.10]];

const ewWghm = [[2000.00,-2.33],[2000.09,-2.20],[2000.15,-2.07],[2000.21,-2.07],[2000.30,-2.26],[2000.39,-2.48],[2000.48,-2.60],[2000.57,-2.65],[2000.71,-2.64],[2000.80,-2.77],[2000.89,-2.87],[2000.96,-2.77],[2001.06,-2.58],[2001.13,-2.33],[2001.21,-2.23],[2001.30,-2.45],[2001.39,-2.62],[2001.48,-2.70],[2001.55,-2.80],[2001.63,-2.84],[2001.72,-2.91],[2001.79,-2.86],[2001.88,-2.58],[2001.97,-2.36],[2002.07,-2.10],[2002.11,-2.06],[2002.20,-2.07],[2002.29,-2.23],[2002.37,-2.48],[2002.46,-2.64],[2002.53,-2.72],[2002.62,-2.83],[2002.71,-2.81],[2002.80,-2.74],[2002.89,-2.67],[2002.97,-2.55],[2003.04,-2.42],[2003.12,-2.23],[2003.21,-1.98],[2003.29,-1.95],[2003.36,-2.17],[2003.44,-2.36],[2003.53,-2.45],[2003.64,-2.44],[2003.76,-2.48],[2003.87,-2.45],[2004.02,-2.23],[2004.11,-2.01],[2004.20,-1.79],[2004.29,-1.98],[2004.37,-2.14],[2004.46,-2.30],[2004.55,-2.39],[2004.68,-2.45],[2004.79,-2.51],[2004.88,-2.45],[2004.97,-2.23],[2005.04,-2.07],[2005.12,-1.98],[2005.20,-1.80],[2005.27,-1.85],[2005.35,-2.07],[2005.45,-2.23],[2005.54,-2.39],[2005.66,-2.48],[2005.78,-2.60],[2005.96,-2.60],[2006.11,-2.51],[2006.21,-2.42],[2006.28,-2.39],[2006.36,-2.45],[2006.45,-2.56],[2006.54,-2.60],[2006.63,-2.54],[2006.72,-2.45],[2006.81,-2.45],[2006.88,-2.40],[2006.96,-2.33],[2007.03,-2.17],[2007.11,-1.98],[2007.20,-1.95],[2007.29,-2.01],[2007.38,-2.17],[2007.46,-2.42],[2007.56,-2.51],[2007.65,-2.61],[2007.73,-2.67],[2007.79,-2.66],[2007.89,-2.48],[2008.00,-2.36]];

// ---------- up ----------
const upGray = [[2000.02,-0.14],[2000.06,-0.86],[2000.00,-5.85],[2000.03,-7.39],[2000.14,-10.12],[2000.12,-2.04],[2000.18,-2.52],[2000.20,-5.13],[2000.21,-4.18],[2000.24,-2.52],[2000.29,-2.52],[2000.33,0.10],[2000.35,-1.57],[2000.39,0.10],[2000.42,0.57],[2000.47,1.28],[2000.50,2.71],[2000.51,-1.57],[2000.54,-0.86],[2000.57,2.24],[2000.60,-1.81],[2000.63,2.47],[2000.68,-0.14],[2000.72,0.33],[2000.75,-0.62],[2000.77,4.14],[2000.81,-2.52],[2000.84,4.37],[2000.89,1.28],[2000.90,-0.62],[2000.93,-1.33],[2000.95,4.97],[2000.96,-2.04],[2000.99,2.24],[2001.04,-7.15],[2001.09,-1.57],[2001.10,2.47],[2001.12,-4.54],[2001.16,3.90],[2001.18,0.10],[2001.21,2.00],[2001.24,0.81],[2001.28,-1.33],[2001.31,2.00],[2001.33,-5.01],[2001.36,-1.33],[2001.37,0.81],[2001.40,-3.23],[2001.42,4.37],[2001.42,3.07],[2001.45,1.76],[2001.48,-0.14],[2001.52,4.85],[2001.57,3.42],[2001.60,3.42],[2001.61,4.61],[2001.67,6.04],[2001.63,0.33],[2001.69,2.47],[2001.70,-1.09],[2001.75,-3.23],[2001.78,-1.33],[2001.79,-5.13],[2001.81,-0.86],[2001.84,-3.47],[2001.88,-1.81],[2001.91,-4.18],[2001.93,2.24],[2001.97,3.66],[2001.99,-9.41],[2002.02,-10.12],[2002.04,-7.39],[2002.07,2.95],[2002.08,1.05],[2002.11,-2.28],[2002.14,-0.38],[2002.16,4.97],[2002.17,0.33],[2002.20,-5.85],[2002.23,-8.22],[2002.25,-9.17],[2002.28,-7.51],[2002.31,-4.90],[2002.32,-4.18],[2002.35,-5.25],[2002.38,0.33],[2002.43,1.28],[2002.44,-3.23],[2002.47,-2.76],[2002.52,1.76],[2002.56,1.52],[2002.59,4.73],[2002.61,3.19],[2002.65,2.71],[2002.70,-1.09],[2002.73,2.71],[2002.76,0.33],[2002.80,-1.81],[2002.83,-1.33],[2002.85,2.24],[2002.89,-2.99],[2002.91,-4.90],[2002.94,-9.89],[2002.95,-7.99],[2002.99,4.14],[2003.01,-2.99],[2003.04,3.42],[2003.08,1.05],[2003.09,-4.90],[2003.12,-7.75],[2003.17,-6.68],[2003.20,-10.01],[2003.23,-7.51],[2003.26,-2.76],[2003.30,-10.72],[2003.33,-1.33],[2003.35,-3.71],[2003.38,-6.08],[2003.42,3.42],[2003.47,2.00],[2003.48,4.37],[2003.51,1.05],[2003.56,-1.81],[2003.57,6.04],[2003.60,2.95],
[2003.70,0.33],[2003.73,6.28],[2003.76,8.42],[2003.82,5.09],[2003.87,-8.70],[2003.82,-4.90],[2003.91,0.10],[2003.91,-1.57],[2003.96,-2.99],[2004.00,10.56],[2004.02,5.09],[2004.03,2.47],[2004.12,-9.41],[2004.17,-7.51],[2004.18,-10.36],[2004.18,-5.85],[2004.23,-4.90],[2004.22,2.95],[2004.26,-0.14],[2004.31,-2.28],[2004.35,3.42],[2004.37,-0.86],[2004.41,-4.90],[2004.44,3.19],[2004.49,0.81],[2004.53,6.99],[2004.55,-0.86],[2004.58,2.24],[2004.61,4.37],[2004.64,5.09],[2004.68,-2.76],[2004.71,3.66],[2004.76,2.24],[2004.79,-1.33],[2004.82,4.61],[2004.86,0.81],[2004.91,-0.14],[2004.94,-7.99],[2004.94,2.47],[2004.97,5.33],[2005.01,2.24],[2005.06,-0.14],[2005.07,-4.18],[2005.12,-2.04],[2005.15,-7.51],[2005.18,1.76],[2005.23,-5.85],[2005.24,-7.03],[2005.29,-2.99],[2005.33,-0.14],[2005.38,-5.37],[2005.42,-1.09],[2005.47,1.05],[2005.50,2.24],[2005.54,3.42],[2005.57,0.10],[2005.63,-0.62],[2005.69,-3.94],[2005.75,-4.90],[2005.81,-1.33],[2005.87,-2.99],[2005.90,3.42],[2005.93,4.14],[2005.98,-4.90],[2006.00,-6.80],[2006.01,-9.05],[2006.02,-13.33],[2006.05,-1.09],[2006.10,5.33],[2006.11,8.89],[2006.17,0.81],[2006.19,-4.42],[2006.24,-2.52],[2006.27,-6.08],[2006.31,-7.87],[2006.30,-2.04],[2006.36,1.76],[2006.40,2.95],[2006.42,-0.38],[2006.48,-2.04],[2006.52,3.66],[2006.58,6.04],[2006.63,2.24],[2006.66,3.19],[2006.69,0.33],[2006.73,-2.76],[2006.78,-5.13],[2006.81,-0.86],[2006.85,1.76],[2006.90,-1.57],[2006.91,7.23],[2006.94,1.05],[2006.97,-1.33],[2007.00,2.71],[2007.03,6.04],[2007.11,5.56],[2007.12,-4.18],[2007.14,-5.37],[2007.17,1.28],[2007.20,-6.80],[2007.23,-8.46],[2007.26,-5.85],[2007.22,-0.38],[2007.32,-2.04],[2007.34,3.66],[2007.38,0.10],[2007.43,4.37],[2007.46,3.19],[2007.50,-0.62],[2007.52,6.99],[2007.53,6.04],[2007.56,-2.04],[2007.61,1.52],[2007.62,0.10],[2007.67,3.42],[2007.71,2.24],[2007.76,-3.47],[2007.80,-1.57],[2007.83,1.05],[2007.86,-4.90],[2007.89,7.94],[2007.92,3.19],[2007.95,0.10],[2007.98,-3.71],[2007.97,-5.13],[2007.92,2.24],
[2000.08,-1.5],[2000.16,-3.5],[2000.26,-1.0],[2000.37,-0.5],[2000.45,-2.0],[2000.56,0.8],[2000.66,1.5],[2000.70,-1.5],[2000.79,1.8],[2000.87,0.5],[2000.98,0.0],[2001.02,1.0],[2001.14,-0.8],[2001.26,-2.5],[2001.35,0.3],[2001.44,-0.8],[2001.50,1.5],[2001.55,0.5],[2001.65,2.0],[2001.73,0.8],[2001.83,-2.0],[2001.96,-0.5],[2002.06,-3.5],[2002.13,-6.0],[2002.19,-3.0],[2002.29,-2.0],[2002.40,-1.5],[2002.50,-0.5],[2002.63,0.5],[2002.68,1.5],[2002.79,1.0],[2002.87,-0.5],[2002.97,0.5],[2003.06,-1.0],[2003.14,-3.5],[2003.25,-4.5],[2003.37,-2.0],[2003.44,-0.5],[2003.53,-2.5],[2003.62,0.8],[2003.68,3.0],[2003.79,2.0],[2003.93,1.5],[2004.08,-3.0],[2004.14,-4.0],[2004.28,-1.5],[2004.40,-2.5],[2004.47,-1.0],[2004.59,0.5],[2004.66,1.0],[2004.74,-0.5],[2004.84,1.8],[2004.99,0.5],[2005.03,-2.5],[2005.10,-4.0],[2005.20,-2.0],[2005.27,-4.5],[2005.35,-3.5],[2005.45,-2.5],[2005.52,0.0],[2005.60,-2.0],[2005.66,-1.5],[2005.72,-2.5],[2005.78,-0.5],[2005.84,1.0],[2005.96,0.5],[2006.07,2.0],[2006.14,-3.0],[2006.22,-0.5],[2006.34,-1.0],[2006.45,1.0],[2006.55,0.5],[2006.61,-1.0],[2006.71,1.0],[2006.76,-1.5],[2006.88,0.0],[2006.99,-0.5],[2007.07,-2.0],[2007.16,-3.0],[2007.25,-2.5],[2007.30,0.5],[2007.41,1.5],[2007.48,1.0],[2007.58,0.0],[2007.65,-1.0],[2007.73,0.5],[2007.82,-2.5],[2007.90,-0.5],[2007.99,1.5]];

const upGreen = [[2000.00,-2.76],[2000.02,-4.90],[2000.05,-3.23],[2000.08,-5.37],[2000.12,-6.32],[2000.15,-8.94],[2000.17,-6.56],[2000.20,-8.22],[2000.24,-8.70],[2000.27,-9.29],[2000.30,-4.90],[2000.33,-4.30],[2000.36,-2.99],[2000.39,-2.04],[2000.42,-2.99],[2000.45,-4.90],[2000.48,-4.90],[2000.51,-4.66],[2000.54,-3.71],[2000.59,-2.99],[2000.62,-2.04],[2000.65,0.10],[2000.68,0.81],[2000.71,2.12],[2000.74,1.28],[2000.77,1.52],[2000.80,3.42],[2000.83,2.71],[2000.86,2.24],[2000.89,2.95],[2000.92,2.47],[2000.96,2.47],[2000.99,1.76],[2001.03,2.24],[2001.06,1.28],[2001.09,0.33],[2001.11,2.00],[2001.15,0.81],[2001.18,-0.38],[2001.21,-1.57],[2001.24,-2.04],[2001.27,-3.23],[2001.28,-4.42],[2001.31,-2.52],[2001.36,-3.23],[2001.39,-2.28],[2001.45,-2.04],[2001.48,-1.81],[2001.52,-2.04],[2001.55,-1.09],[2001.60,-0.62],[2001.63,1.05],[2001.66,0.81],[2001.72,0.81],[2001.75,1.76],[2001.79,0.57],[2001.82,0.57],[2001.86,2.24],[2001.89,3.42],[2001.92,-0.38],[2001.95,0.33],[2001.98,0.10],[2002.00,-0.14],[2002.04,-2.99],[2002.07,-5.85],[2002.10,-4.18],[2002.13,-4.90],[2002.16,-5.85],[2002.19,-6.08],[2002.22,-5.37],[2002.25,-4.42],[2002.28,-3.71],[2002.30,-2.28],[2002.34,-3.71],[2002.37,-2.99],[2002.41,-2.52],[2002.46,-3.23],[2002.49,-3.94],[2002.52,-1.81],[2002.55,-2.04],[2002.58,-1.33],[2002.61,0.33],[2002.65,0.81],[2002.70,1.52],[2002.73,0.33],[2002.77,-0.14],[2002.82,-0.14],[2002.86,-0.86],[2002.89,1.76],[2002.92,2.47],[2002.95,1.28],[2002.99,0.57],[2003.03,-0.62],[2003.07,-1.81],[2003.10,-2.04],[2003.13,-2.99],[2003.17,-2.99],[2003.20,-3.94],[2003.24,-4.18],[2003.29,-4.66],[2003.32,-3.94],[2003.36,-3.47],[2003.41,-2.76],[2003.45,-4.42],[2003.50,-2.99],[2003.53,-0.86],[2003.57,-0.38],[2003.60,0.57],[2003.64,2.47],[2003.67,1.28],[2003.70,2.00],[2003.73,2.47],[2003.76,3.19],[2003.81,2.71],[2003.84,3.19],[2003.87,4.14],[2003.90,2.71],[2003.93,3.66],[2003.94,4.85],[2003.97,2.24],[2004.00,1.28],[2004.03,0.81],[2004.06,-1.57],[2004.09,-2.99],[2004.12,-5.85],[2004.15,-1.81],[2004.18,-2.52],[2004.21,-3.47],[2004.24,-2.04],[2004.28,-2.28],[2004.31,-4.66],[2004.34,-3.47],[2004.37,-4.42],[2004.41,-3.47],[2004.46,-2.04],[2004.49,-0.86],[2004.55,0.81],[2004.58,1.05],[2004.62,0.81],[2004.68,0.33],[2004.71,2.00],[2004.76,2.71],[2004.80,4.14],[2004.85,3.66],[2004.88,4.37],[2004.92,4.61],[2004.95,4.85],[2005.00,4.14],[2005.03,4.85],[2005.06,3.66],[2005.09,2.24],[2005.12,1.52],[2005.17,0.81],[2005.20,-2.04],[2005.23,-2.28],[2005.27,-2.52],[2005.30,-3.47],[2005.33,-2.76],[2005.39,-2.52],[2005.42,-3.47],[2005.45,-2.04],[2005.48,-2.52],[2005.53,-1.81],[2005.56,-3.71],[2005.59,-2.52],[2005.62,-1.33],[2005.65,-0.86],[2005.69,2.71],[2005.72,3.19],[2005.75,3.66],[2005.78,4.61],[2005.81,1.76],[2005.84,2.71],[2005.87,1.76],[2005.90,2.24],[2005.93,0.33],[2005.96,2.24],[2006.00,2.71],[2006.02,3.66],[2006.05,3.42],[2006.08,4.14],[2006.11,3.66],[2006.14,2.71],[2006.17,0.33],[2006.21,-2.04],[2006.24,-3.71],[2006.27,-3.94],[2006.30,-4.66],[2006.33,-3.94],[2006.36,-2.52],[2006.39,-2.04],[2006.42,-0.14],[2006.45,0.81],[2006.48,1.28],[2006.51,1.76],[2006.54,0.57],[2006.57,-0.14],[2006.60,-1.33],[2006.63,-2.52],[2006.66,-3.47],[2006.69,-3.94],[2006.72,-2.04],[2006.75,-1.57],[2006.78,-1.33],[2006.81,-0.86],[2006.84,0.81],[2006.87,1.76],[2006.90,3.66],[2006.93,4.85],[2006.96,5.33],[2006.99,4.14],[2007.02,3.42],[2007.05,1.76],[2007.08,-0.14],[2007.11,-0.86],[2007.14,-3.47],[2007.17,-4.66],[2007.20,-5.61],[2007.23,-4.66],[2007.26,-5.61],[2007.29,-5.61],[2007.32,-3.94],[2007.35,-3.94],[2007.38,-2.76],[2007.41,-3.47],[2007.44,-2.99],[2007.47,-4.42],[2007.50,-4.90],[2007.53,-6.32],[2007.56,-5.61],[2007.59,-4.90],[2007.62,-2.52],[2007.65,-0.62],[2007.68,0.81],[2007.73,1.76],[2007.77,2.24],[2007.80,0.81],[2007.83,2.71],[2007.86,3.19],[2007.89,4.14],[2007.92,5.09],[2007.95,6.75],[2007.98,6.99],[2008.01,6.99]];

const upGrace = [[2002.59,11.27],[2002.65,7.23],[2002.68,12.46],[2002.71,12.10],[2002.72,10.32],[2002.74,9.72],[2002.77,11.62],[2002.80,10.44],[2002.82,8.18],[2002.83,4.37],[2002.86,7.70],[2002.91,6.04],[2003.17,4.26],[2003.21,8.30],[2003.26,7.94],[2003.29,7.23],[2003.33,7.82],[2003.36,6.99],[2003.41,8.42],[2003.45,9.84],[2003.50,11.27],[2003.57,12.58],[2003.64,10.08],[2003.67,11.74],[2003.73,13.05],[2003.76,12.22],[2003.79,11.98],[2003.82,10.56],[2003.85,12.34],[2003.88,11.51],[2003.91,9.37],[2003.94,8.18],[2003.97,10.08],[2003.99,6.28],[2004.02,10.32],[2004.05,7.70],[2004.09,3.19],[2004.12,5.56],[2004.15,4.14],[2004.18,4.85],[2004.23,5.09],[2004.26,4.37],[2004.29,4.85],[2004.32,7.70],[2004.35,9.13],[2004.38,7.46],[2004.41,8.18],[2004.44,10.32],[2004.47,10.79],[2004.52,7.70],[2004.56,8.89],[2004.61,12.93],[2004.64,11.03],[2004.68,10.67],[2004.73,10.56],[2004.76,8.65],[2004.79,11.98],[2004.83,10.79],[2004.86,11.03],[2004.88,8.18],[2004.92,7.70],[2004.97,8.18],[2005.00,6.28],[2005.04,5.09],[2005.09,3.90],[2005.13,4.37],[2005.18,4.02],[2005.21,3.90],[2005.24,5.56],[2005.29,6.63],[2005.32,6.51],[2005.35,5.56],[2005.39,6.75],[2005.44,7.23],[2005.47,8.42],[2005.50,9.37],[2005.54,10.08],[2005.57,8.89],[2005.60,7.46],[2005.63,8.89],[2005.66,10.20],[2005.71,10.56],[2005.74,12.22],[2005.78,11.03],[2005.81,12.46],[2005.86,11.98],[2005.89,10.79],[2005.93,11.27],[2005.96,8.89],[2006.00,6.51],[2006.02,8.89],[2006.05,9.37],[2006.08,6.99],[2006.12,6.28],[2006.14,6.99],[2006.17,5.56],[2006.21,4.85],[2006.25,4.61],[2006.28,5.56],[2006.33,6.28],[2006.36,5.56],[2006.39,8.18],[2006.42,6.51],[2006.46,7.23],[2006.49,9.84],[2006.52,10.79],[2006.55,11.98],[2006.58,12.22],[2006.61,10.79],[2006.66,8.18],[2006.69,9.37],[2006.72,10.32],[2006.75,11.51],[2006.78,11.74],[2006.81,10.32],[2006.84,8.65],[2006.87,7.94],[2006.90,7.70],[2006.93,6.51],[2006.96,9.13],[2006.99,8.18],[2007.02,5.09],[2007.05,4.37],[2007.08,3.90],[2007.11,4.61],[2007.14,3.19],[2007.17,3.42],[2007.20,3.90],[2007.23,5.09],[2007.26,5.80],[2007.29,6.99],[2007.32,8.42],[2007.35,9.13],[2007.38,7.46],[2007.41,8.89],[2007.44,9.84],[2007.47,10.56],[2007.50,7.70],[2007.53,8.65],[2007.56,9.37],[2007.59,9.84],[2007.62,10.79],[2007.67,10.32],[2007.70,9.13],[2007.73,11.27],[2007.76,11.03],[2007.79,12.70],[2007.82,13.05],[2007.85,11.74],[2007.88,10.32],[2007.91,9.60],[2007.94,7.46],[2007.97,8.42],[2008.00,9.13],[2008.01,7.94]];

const upWghm = [[2000.00,-10.36],[2000.06,-11.79],[2000.12,-12.98],[2000.21,-13.81],[2000.30,-12.15],[2000.35,-10.36],[2000.39,-7.99],[2000.44,-5.61],[2000.48,-5.13],[2000.54,-5.01],[2000.63,-4.42],[2000.72,-3.59],[2000.80,-3.94],[2000.87,-5.37],[2000.96,-7.99],[2001.06,-9.89],[2001.15,-11.31],[2001.21,-12.15],[2001.28,-11.91],[2001.37,-8.70],[2001.46,-5.85],[2001.54,-5.13],[2001.63,-4.06],[2001.72,-4.90],[2001.86,-8.22],[2001.94,-10.60],[2002.05,-12.98],[2002.14,-14.17],[2002.20,-13.93],[2002.29,-12.03],[2002.38,-7.99],[2002.46,-5.61],[2002.55,-3.94],[2002.62,-3.23],[2002.70,-2.99],[2002.77,-4.66],[2002.86,-8.22],[2002.94,-9.65],[2003.03,-11.79],[2003.13,-13.45],[2003.20,-12.98],[2003.30,-10.36],[2003.38,-7.75],[2003.45,-4.66],[2003.54,-3.47],[2003.64,-2.20],[2003.70,-2.04],[2003.78,-3.23],[2003.87,-6.80],[2003.97,-9.65],[2004.05,-11.79],[2004.12,-13.93],[2004.18,-14.28],[2004.28,-12.26],[2004.37,-8.70],[2004.46,-6.08],[2004.55,-4.66],[2004.64,-3.59],[2004.71,-2.99],[2004.79,-3.71],[2004.88,-6.56],[2004.97,-9.17],[2005.06,-10.84],[2005.13,-12.98],[2005.21,-14.40],[2005.29,-12.50],[2005.38,-8.94],[2005.47,-5.97],[2005.54,-4.30],[2005.63,-3.35],[2005.71,-2.88],[2005.78,-2.64],[2005.87,-4.06],[2005.95,-7.03],[2006.04,-10.01],[2006.13,-11.79],[2006.21,-13.45],[2006.30,-12.03],[2006.37,-9.17],[2006.45,-5.61],[2006.54,-3.23],[2006.63,-4.06],[2006.70,-4.54],[2006.79,-4.66],[2006.87,-6.80],[2006.96,-8.46],[2007.05,-10.84],[2007.14,-13.45],[2007.20,-13.57],[2007.29,-10.84],[2007.38,-7.39],[2007.46,-5.49],[2007.55,-4.54],[2007.62,-3.59],[2007.70,-3.66],[2007.80,-4.78],[2007.88,-6.80],[2007.94,-8.46],[2008.00,-9.65]];

// ---------- chart ----------
const FONT = 'Liberation Sans, Arial, sans-serif';
const COL = { gray: '#cccccc', light: '#e6e6e6', green: '#00ff00', orange: '#ffa500', navy: '#191970' };
const gridTops = [153, 1336, 2520];
const gridLeft = 290, gridWidth = 2139, gridHeight = 927;

const chart = echarts.init(document.getElementById('c'), null, { renderer: 'canvas' });

const grids = [], xAxes = [], yAxes = [], series = [];
gridTops.forEach((top, i) => {
  grids.push({ left: gridLeft, top: top, width: gridWidth, height: gridHeight, show: true,
    borderColor: '#000', borderWidth: 4, backgroundColor: 'transparent',
    containLabel: false, outerBoundsMode: 'none' });
  xAxes.push({ type: 'value', gridIndex: i, min: xRange[0], max: xRange[1], interval: xRange[2],
    axisLine: { show: false },
    axisTick: { show: true, inside: true, length: 22, lineStyle: { color: '#000', width: 3 } },
    axisLabel: { show: true, margin: 38, color: '#000', fontFamily: FONT, fontSize: 63,
      hideOverlap: false, showMaxLabel: true, showMinLabel: true,
      formatter: v => (v % 2 === 0 ? v + '-01-01' : '') },
    splitLine: { show: true, lineStyle: { color: '#222', width: 2, type: [5, 10] } } });
  const r = yRanges[i];
  yAxes.push({ type: 'value', gridIndex: i, min: r[0], max: r[1], interval: r[2], position: 'left',
    axisLine: { show: false },
    axisTick: { show: true, inside: true, length: 24, lineStyle: { color: '#000', width: 3 } },
    axisLabel: { show: true, margin: 40, color: '#000', fontFamily: FONT, fontSize: 63 },
    splitLine: { show: true, lineStyle: { color: '#222', width: 2, type: [4, 8] } } });
});
gridTops.forEach((top, i) => {
  const r = yRanges[i];
  yAxes.push({ type: 'value', gridIndex: i, min: r[0], max: r[1], interval: r[2], position: 'right',
    axisLine: { show: false },
    axisTick: { show: true, inside: true, length: 24, lineStyle: { color: '#000', width: 3 } },
    axisLabel: { show: false }, splitLine: { show: false } });
});

function scatter(data, i) {
  return { type: 'scatter', xAxisIndex: i, yAxisIndex: i, data: data, symbol: 'circle', symbolSize: 43,
    itemStyle: { color: COL.gray, opacity: 1 }, silent: true, z: 2 };
}
function line(data, i, color, width, z, clip) {
  return { type: 'line', xAxisIndex: i, yAxisIndex: i, data: data, showSymbol: false, symbol: 'none',
    lineStyle: { color: color, width: width, join: 'miter', miterLimit: 3 }, z: z, silent: true,
    clip: clip !== false };
}

const panels = [
  { gray: nsGray, light: null, green: nsGreen, grace: nsGrace, wghm: nsWghm, clipGreen: true },
  { gray: ewGray, light: ewGrayMean, green: ewGreen, grace: ewGrace, wghm: ewWghm, clipGreen: false },
  { gray: upGray, light: null, green: upGreen, grace: upGrace, wghm: upWghm, clipGreen: true }
];
panels.forEach((p, i) => {
  series.push(scatter(p.gray, i));
  if (p.light) series.push(line(p.light, i, COL.light, 5, 3));
  series.push(line(p.wghm, i, COL.navy, 13, 4));
  series.push(line(p.grace, i, COL.orange, 13, 5));
  series.push(line(p.green, i, COL.green, 14, 6, p.clipGreen));
});

const graphics = [];
const titleBaselines = [80, 1262, 2448];
const TXT_SHIFT = 8;
panelTitles.forEach((t, i) => {
  graphics.push({ type: 'text', x: gridLeft + gridWidth / 2, y: titleBaselines[i] - 0.3465 * 64 + TXT_SHIFT,
    style: { text: t, font: '64px ' + FONT, fill: '#000', textAlign: 'center', textVerticalAlign: 'middle' } });
  graphics.push({ type: 'text', x: 74, y: gridTops[i] + gridHeight / 2, rotation: Math.PI / 2,
    style: { text: '[mm]', font: '63px ' + FONT, fill: '#000', textAlign: 'center', textVerticalAlign: 'middle' } });
});
const legendPos = [[363, 356, '#999999'], [363, 473, COL.green], [1965, 240, COL.orange], [1965, 1052, COL.navy]];
legendNames.forEach((n, k) => {
  const p = legendPos[k];
  graphics.push({ type: 'text', x: p[0], y: p[1] - 0.3465 * 84 + TXT_SHIFT, z: 100,
    style: { text: n, font: '84px ' + FONT, fill: p[2], textAlign: 'left', textVerticalAlign: 'middle' } });
});

chart.setOption({
  animation: false,
  backgroundColor: '#fff',
  grid: grids, xAxis: xAxes, yAxis: yAxes, series: series,
  graphic: graphics
});
</script></body></html>
